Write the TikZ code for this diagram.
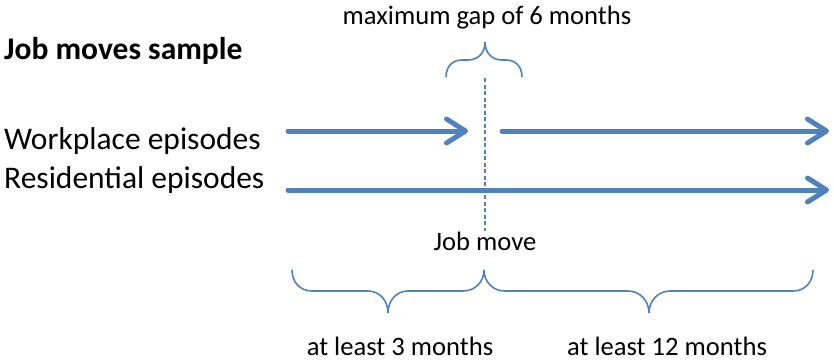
\documentclass[tikz,border=0pt]{standalone}
\usepackage{fontspec}
\setmainfont{Carlito}
\usetikzlibrary{arrows.meta}
\definecolor{accent}{HTML}{4F81BD}
\tikzset{
	bigtext/.style={inner sep=0pt, font=\fontsize{31.5}{36}\selectfont},
	smalltext/.style={inner sep=0pt, font=\fontsize{26.6}{30}\selectfont},
	episode/.style={accent, line width=5pt, line cap=round,
		-{Straight Barb[length=19pt, width=24pt, round]}},
	brace/.style={accent, line width=1.6pt},
}
\begin{document}
\begin{tikzpicture}[x=1pt, y=-1pt]
		\useasboundingbox (0,0) rectangle (834,360);
		% labels
		\node[bigtext, anchor=base west, font=\fontsize{31.5}{36}\selectfont\bfseries] (title) at (4,59) {Job moves sample};
		\node[bigtext, anchor=base west] (work) at (4,149) {Workplace episodes};
		\node[bigtext, anchor=base west] (resi) at (4,188) {Residential episodes};
		\node[smalltext, anchor=base] (gap) at (487,24) {maximum gap of 6 months};
		\node[smalltext, anchor=base] (move) at (485,250) {Job move};
		\node[smalltext, anchor=base] (three) at (400,355) {at least 3 months};
		\node[smalltext, anchor=base] (twelve) at (667,355) {at least 12 months};
		% episodes
		\coordinate (wa) at (288,131);
		\coordinate (wb) at (468,131);
		\coordinate (wc) at (502,131);
		\coordinate (wd) at (829,131);
		\coordinate (ra) at (288,190);
		\coordinate (rb) at (829,190);
		\draw[episode] (wa) -- (wb);
		\draw[episode] (wc) -- (wd);
		\draw[episode] (ra) -- (rb);
		% job move
		\coordinate (jtop) at (485,78);
		\draw[accent, line width=1.5pt, dash pattern=on 4pt off 2.5pt] (jtop) -- (move.north);
		% braces
		\draw[brace] (446,77) .. controls (446,67) and (452,60) .. (462,60) -- (468,60)
			.. controls (478,60) and (485,53) .. (485,42)
			.. controls (485,53) and (492,60) .. (502,60) -- (506,60)
			.. controls (516,60) and (522,67) .. (522,77);
		\draw[brace] (292,270) .. controls (292,282) and (300,291) .. (312,291) -- (368,291)
			.. controls (380,291) and (388,301) .. (388,313)
			.. controls (388,301) and (396,291) .. (408,291) -- (463,291)
			.. controls (475,291) and (484,282) .. (484,270);
		\draw[brace] (484,270) .. controls (484,282) and (493,291) .. (505,291) -- (628,291)
			.. controls (640,291) and (649,301) .. (649,313)
			.. controls (649,301) and (658,291) .. (670,291) -- (793,291)
			.. controls (805,291) and (813,282) .. (813,270);
\end{tikzpicture}
\end{document}
